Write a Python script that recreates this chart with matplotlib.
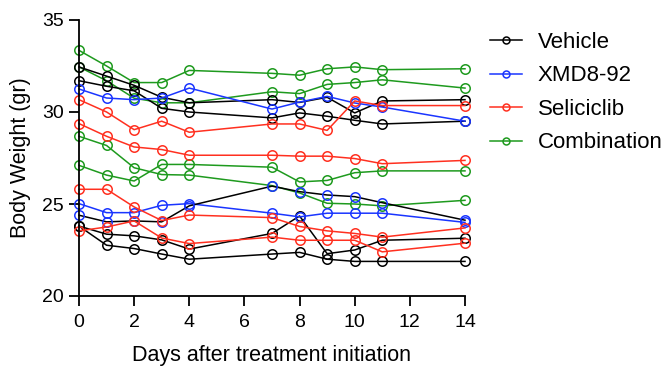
import matplotlib
matplotlib.use("Agg")
import matplotlib.pyplot as plt
from matplotlib.lines import Line2D

plt.rcParams['font.family'] = ['Liberation Sans', 'DejaVu Sans']

days = [0, 1, 2, 3, 4, 7, 8, 9, 10, 11, 14]

groups = ["Vehicle", "XMD8-92", "Seliciclib", "Combination"]
colors = {"Vehicle": "#000000", "XMD8-92": "#1a35ff",
          "Seliciclib": "#ff3020", "Combination": "#1e9a1e"}

vehicle = [
    [32.45, 31.95, 31.45, 30.8, 30.5, 30.67, 30.52, 30.8, 29.95, 30.6, 30.67],
    [31.7, 31.4, 31.15, 30.2, 30.0, 29.68, 29.95, 29.77, 29.55, 29.35, 29.5],
    [23.8, 23.36, 23.27, 23.05, 22.55, 23.4, 24.35, 22.3, 22.5, 23.03, 23.14],
    [23.8, 22.76, 22.58, 22.28, 22.0, 22.28, 22.37, 22.0, 21.88, 21.88, 21.88],
]
xmd = [
    [31.25, 30.76, 30.67, 30.76, 31.3, 30.16, 30.54, 30.85, 30.49, 30.27, 29.5],
    [25.02, 24.53, 24.53, 24.93, 25.02, 24.5, 24.3, 24.5, 24.5, 24.5, 24.0],
    [24.39, 24.03, 24.08, 24.03, 24.9, 25.97, 25.67, 25.49, 25.4, 25.07, 24.12],
]
# the third XMD8-92 animal is drawn with a black connecting line in the original
xmd_line_colors = ["#1a35ff", "#1a35ff", "#000000"]
selic = [
    [30.67, 30.0, 29.04, 29.5, 28.9, 29.35, 29.35, 29.0, 30.6, 30.35, 30.35],
    [29.37, 28.68, 28.1, 27.96, 27.65, 27.65, 27.6, 27.6, 27.47, 27.19, 27.37],
    [25.8, 25.8, 24.84, 24.1, 24.4, 24.26, 23.78, 23.54, 23.4, 23.2, 23.7],
    [23.54, 23.75, 24.08, 23.15, 22.85, 23.2, 23.03, 23.03, 23.03, 22.4, 22.87],
]
combo = [
    [33.35, 32.5, 31.6, 31.6, 32.26, 32.1, 32.0, 32.35, 32.45, 32.3, 32.35],
    [32.45, 31.7, 30.75, 30.5, 30.5, 31.1, 31.0, 31.5, 31.6, 31.75, 31.3],
    [28.68, 28.18, 26.97, 26.6, 26.57, 26.0, 25.6, 25.04, 25.0, 24.9, 25.2],
    [27.1, 26.57, 26.25, 27.15, 27.15, 27.0, 26.2, 26.28, 26.7, 26.8, 26.8],
]

fig = plt.figure(figsize=(6.65, 3.69), dpi=100)
ax = fig.add_axes([79/665, 1-296/369, (465-79)/665, (296-20)/369])

ms = 6.8
lw = 1.1
mew = 1.1

def draw(series, color, line_colors=None):
    for i, s in enumerate(series):
        lc = line_colors[i] if line_colors else color
        ax.plot(days, s, color=lc, lw=lw, marker='o', ms=ms, mfc='none',
                mec=color, mew=mew, clip_on=False)

draw(combo, colors["Combination"])
draw(vehicle, colors["Vehicle"])
draw(xmd, colors["XMD8-92"], xmd_line_colors)
draw(selic, colors["Seliciclib"])

ax.set_xlim(0, 14)
ax.set_ylim(20, 35)
ax.set_xticks([0, 2, 4, 6, 8, 10, 12, 14])
ax.set_yticks([20, 25, 30, 35])
for sp in ['top', 'right']:
    ax.spines[sp].set_visible(False)
for sp in ['left', 'bottom']:
    ax.spines[sp].set_linewidth(1.3)
ax.tick_params(axis='both', direction='out', length=7, width=1.3,
               labelsize=14)
ax.tick_params(axis='x', pad=6)
ax.tick_params(axis='y', pad=4)
ax.set_xlabel("Days after treatment initiation", fontsize=15.5, labelpad=10)
ax.set_ylabel("Body Weight (gr)", fontsize=15.5, labelpad=8)

handles = [Line2D([], [], color=colors[g], lw=lw, marker='o', ms=5,
                  mfc='none', mec=colors[g], mew=mew) for g in groups]
fig.legend(handles, groups, loc='upper left',
           bbox_to_anchor=(490/665, 1-32/369), frameon=False,
           fontsize=16, handlelength=1.45, handletextpad=0.7,
           labelspacing=0.56, borderaxespad=0, borderpad=0)

fig.savefig("out.png", dpi=100)
